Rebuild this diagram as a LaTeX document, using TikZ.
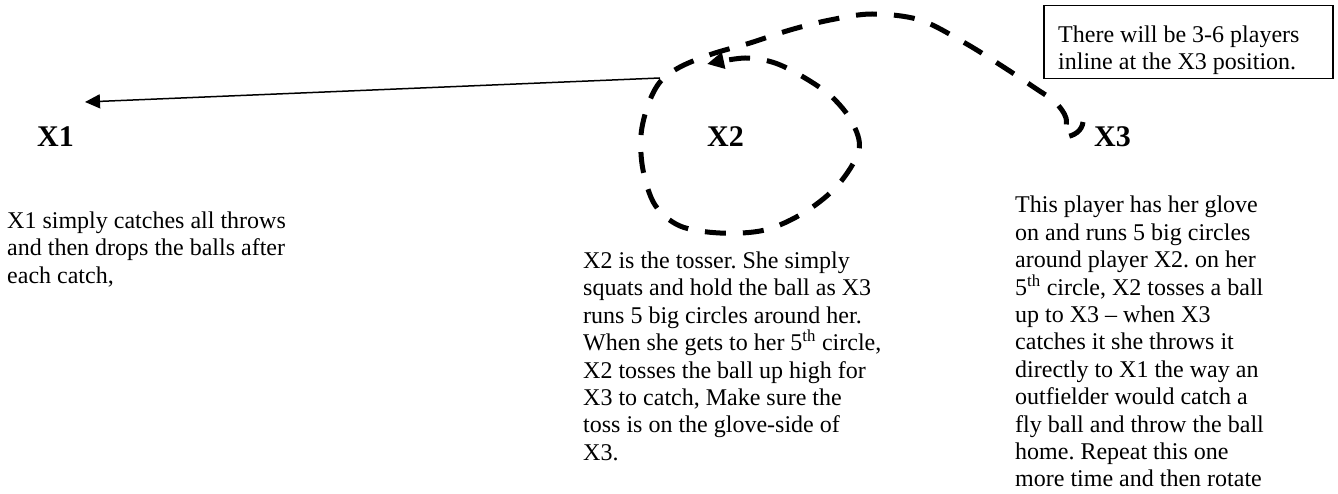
\documentclass[tikz,border=0pt]{standalone}
\usepackage{fontspec}
\setmainfont{Liberation Serif}
\usetikzlibrary{arrows.meta}
\begin{document}
\frenchspacing
\begin{tikzpicture}[x=1pt,y=-1pt,
  body/.style={font=\fontsize{24}{27.4}\selectfont, align=left, inner sep=0pt, anchor=north west},
  lbl/.style={font=\fontsize{30}{36}\selectfont\bfseries, inner sep=0pt, anchor=base west},
  run/.style={line width=5pt, dash pattern=on 21pt off 17pt, line cap=butt},
  throw/.style={line width=1.5pt, -{Triangle[length=15pt,width=14pt]}},
  notebox/.style={draw, line width=1.5pt, minimum width=289pt, minimum height=73pt, inner sep=0pt, anchor=north west}]
\useasboundingbox (0,0) rectangle (1338,494);

% labels
\node[lbl] (X1) at (37,147) {X1};
\node[lbl] (X2) at (707,147) {X2};
\node[lbl] (X3) at (1094,147) {X3};

% note box
\node[notebox] (box) at (1043,5) {};
\node[body] (boxtext) at (1058,25.7) {There will be 3-6 players\\inline at the X3 position.};

% descriptions
\node[body] (t1) at (7,211.7) {X1 simply catches all throws\\and then drops the balls after\\each catch,};
\node[body] (t2) at (583,251.7) {X2 is the tosser. She simply\\squats and hold the ball as X3\\runs 5 big circles around her.\\When she gets to her 5\textsuperscript{th} circle,\\X2 tosses the ball up high for\\X3 to catch, Make sure the\\toss is on the glove-side of\\X3.};
\node[body] (t3) at (1015,196) {This player has her glove\\on and runs 5 big circles\\around player X2. on her\\5\textsuperscript{th} circle, X2 tosses a ball\\up to X3 -- when X3\\catches it she throws it\\directly to X1 the way an\\outfielder would catch a\\fly ball and throw the ball\\home. Repeat this one\\more time and then rotate};

% throw to X1
\coordinate (j) at (660,78);
\coordinate (x1in) at (85,102);
\draw[throw] (j) -- (x1in);

% running path of X3
\coordinate (x3start) at (1083,122);
\draw[run, -{Triangle[length=17pt,width=16pt]}] (x3start) .. controls (1082,131) and (1074,136) .. (1065,137)
 -- plot[smooth, tension=0.55] coordinates {
 (1065,137) (1066,118) (1055,102) (1035,88) (1005,68) (965,43) (920,20) (872,14)
 (830,20) (790,30) (750,43) (712,54) (680,67) (660,82) (648,105) (641,135) (643,170)
 (655,205) (680,226) (720,233) (765,230) (805,212) (838,185) (859,150) (852,122) (832,97)
 (805,78) (775,63) (745,58) (707,64)};
\end{tikzpicture}
\end{document}
